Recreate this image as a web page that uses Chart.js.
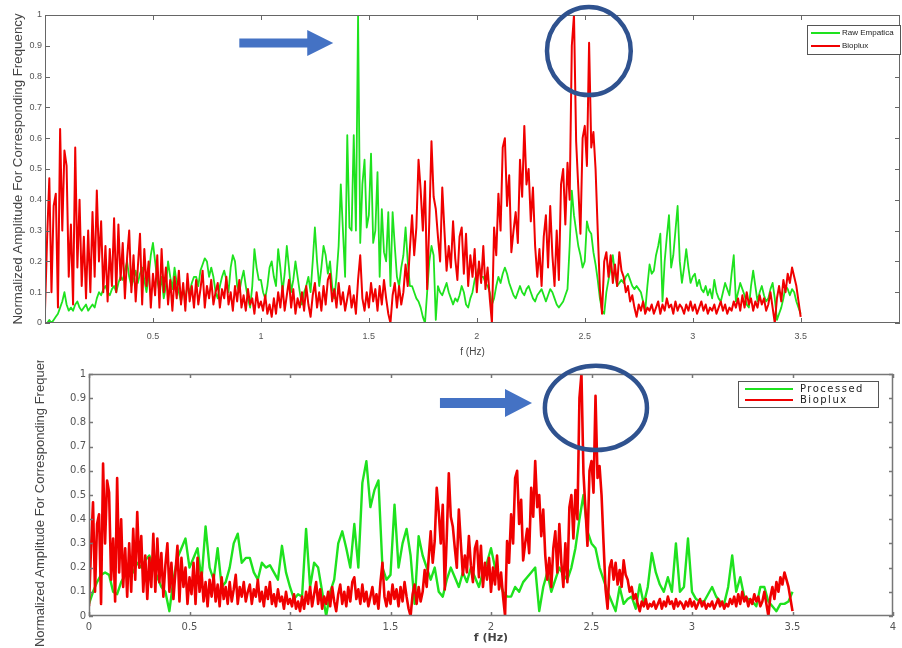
<!DOCTYPE html>
<html><head><meta charset="utf-8">
<script src="https://cdn.jsdelivr.net/npm/chart.js@4"></script>
<style>
html,body{margin:0;padding:0;background:#fff;overflow:hidden;width:902px;height:648px}
#top{position:absolute;left:0;top:0;width:902px;height:360px}
#bot{position:absolute;left:0;top:360px;width:902px;height:288px}
</style></head><body>
<div id="top"><canvas id="c1"></canvas></div>
<div id="bot"><canvas id="c2"></canvas></div>
<script>
// ---- data (frequency step in Hz for each series) ----
const bioStep = 0.01;
const bioplux = [
0.04,0.28,0.47,0.10,0.38,0.42,0.05,0.63,0.30,0.56,
0.51,0.15,0.32,0.06,0.57,0.18,0.40,0.12,0.28,0.08,
0.30,0.10,0.36,0.15,0.43,0.20,0.33,0.10,0.25,0.07,
0.24,0.12,0.34,0.10,0.32,0.14,0.26,0.08,0.21,0.30,
0.10,0.22,0.07,0.18,0.29,0.06,0.24,0.12,0.20,0.05,
0.16,0.09,0.22,0.05,0.24,0.10,0.18,0.06,0.14,0.04,
0.15,0.08,0.17,0.06,0.13,0.04,0.16,0.07,0.12,0.05,
0.14,0.06,0.11,0.17,0.05,0.12,0.08,0.14,0.06,0.10,
0.13,0.05,0.11,0.08,0.15,0.06,0.10,0.04,0.12,0.07,
0.14,0.05,0.09,0.04,0.11,0.06,0.08,0.03,0.10,0.05,
0.07,0.04,0.09,0.03,0.06,0.02,0.08,0.03,0.10,0.05,
0.12,0.04,0.09,0.14,0.05,0.11,0.03,0.08,0.05,0.10,
0.04,0.12,0.06,0.02,0.09,0.13,0.05,0.10,0.04,0.12,
0.06,0.14,0.16,0.07,0.11,0.05,0.13,0.06,0.10,0.04,
0.08,0.12,0.05,0.09,0.03,0.14,0.22,0.08,0.04,0.10,
0.05,0.13,0.07,0.11,0.04,0.12,0.06,0.14,0.08,0.03,
0.00,0.09,0.13,0.05,0.12,0.06,0.10,0.19,0.12,0.24,
0.35,0.22,0.31,0.53,0.43,0.30,0.46,0.11,0.33,0.59,
0.41,0.37,0.28,0.20,0.44,0.30,0.17,0.25,0.18,0.33,
0.21,0.14,0.28,0.31,0.16,0.29,0.12,0.22,0.15,0.24,
0.10,0.20,0.13,0.25,0.11,0.18,0.08,0.00,0.31,0.22,
0.42,0.30,0.57,0.60,0.38,0.48,0.23,0.30,0.36,0.26,
0.53,0.41,0.64,0.45,0.50,0.33,0.44,0.25,0.15,0.24,
0.12,0.28,0.35,0.18,0.38,0.22,0.12,0.30,0.14,0.45,
0.50,0.32,0.52,0.40,0.90,1.00,0.59,0.44,0.29,0.60,
0.64,0.51,0.91,0.57,0.62,0.50,0.30,0.11,0.03,0.20,
0.23,0.15,0.22,0.13,0.19,0.12,0.23,0.17,0.15,0.10,
0.12,0.07,0.09,0.05,0.02,0.06,0.04,0.07,0.03,0.05,
0.04,0.06,0.03,0.05,0.07,0.03,0.06,0.04,0.08,0.05,
0.06,0.03,0.07,0.04,0.06,0.05,0.03,0.06,0.04,0.07,
0.04,0.06,0.03,0.05,0.07,0.04,0.06,0.03,0.05,0.04,
0.06,0.03,0.05,0.07,0.04,0.06,0.03,0.05,0.04,0.07,
0.05,0.08,0.04,0.09,0.05,0.10,0.06,0.08,0.04,0.07,
0.05,0.09,0.06,0.08,0.04,0.06,0.10,0.05,0.00,0.08,
0.12,0.07,0.14,0.10,0.16,0.13,0.18,0.15,0.12,0.07,
0.02];

const rawStep = 0.01;
const rawEmpatica = [
0.00,0.00,0.01,0.00,0.01,0.02,0.03,0.05,0.07,0.10,
0.06,0.04,0.05,0.04,0.06,0.07,0.05,0.04,0.05,0.06,
0.04,0.05,0.06,0.05,0.08,0.10,0.09,0.11,0.12,0.10,
0.09,0.11,0.12,0.10,0.13,0.15,0.14,0.17,0.20,0.15,
0.12,0.14,0.17,0.13,0.16,0.18,0.14,0.10,0.15,0.22,
0.26,0.20,0.14,0.10,0.15,0.08,0.12,0.20,0.15,0.11,
0.18,0.13,0.10,0.07,0.11,0.08,0.12,0.10,0.13,0.15,
0.15,0.12,0.17,0.19,0.21,0.20,0.15,0.18,0.15,0.10,
0.08,0.12,0.15,0.17,0.14,0.10,0.18,0.22,0.20,0.12,
0.10,0.14,0.17,0.12,0.08,0.05,0.12,0.24,0.18,0.14,
0.14,0.10,0.08,0.12,0.18,0.20,0.15,0.12,0.24,0.18,
0.10,0.16,0.25,0.18,0.10,0.14,0.20,0.15,0.10,0.06,
0.10,0.12,0.15,0.10,0.20,0.31,0.20,0.12,0.18,0.25,
0.22,0.16,0.20,0.12,0.08,0.15,0.25,0.45,0.30,0.15,
0.61,0.31,0.30,0.61,0.30,1.00,0.26,0.45,0.53,0.31,
0.35,0.55,0.26,0.30,0.49,0.15,0.37,0.23,0.20,0.36,
0.12,0.36,0.25,0.15,0.12,0.18,0.22,0.31,0.20,0.12,
0.12,0.10,0.08,0.07,0.05,0.02,0.00,0.10,0.20,0.25,
0.22,0.01,0.12,0.10,0.09,0.11,0.13,0.10,0.08,0.06,
0.08,0.07,0.09,0.12,0.10,0.06,0.05,0.08,0.10,0.14,
0.16,0.18,0.15,0.15,0.13,0.12,0.10,0.06,0.08,0.12,
0.15,0.13,0.16,0.18,0.16,0.13,0.11,0.09,0.08,0.10,
0.12,0.10,0.09,0.11,0.12,0.10,0.08,0.07,0.09,0.10,
0.11,0.09,0.07,0.09,0.11,0.10,0.08,0.06,0.05,0.06,
0.07,0.09,0.11,0.25,0.43,0.35,0.30,0.25,0.22,0.18,
0.20,0.33,0.30,0.29,0.23,0.19,0.14,0.08,0.04,0.03,
0.10,0.14,0.18,0.22,0.16,0.12,0.13,0.14,0.13,0.15,
0.16,0.14,0.12,0.11,0.12,0.11,0.10,0.07,0.04,0.12,
0.19,0.16,0.17,0.22,0.25,0.29,0.07,0.20,0.28,0.35,
0.18,0.22,0.30,0.38,0.20,0.13,0.18,0.24,0.18,0.13,
0.15,0.16,0.12,0.14,0.11,0.10,0.12,0.09,0.11,0.08,
0.14,0.10,0.08,0.07,0.10,0.13,0.11,0.09,0.16,0.22,
0.07,0.10,0.13,0.11,0.09,0.06,0.05,0.12,0.17,0.12,
0.07,0.10,0.12,0.09,0.07,0.08,0.11,0.13,0.08,0.01,
0.03,0.05,0.08,0.12,0.11,0.09,0.11,0.10,0.07,0.05,
0.03];

const procStep = 0.02;
const processed = [
0.05,0.10,0.14,0.17,0.18,0.17,0.10,0.09,0.14,0.17,
0.20,0.18,0.22,0.20,0.23,0.25,0.20,0.16,0.12,0.10,
0.02,0.15,0.24,0.28,0.32,0.20,0.24,0.28,0.15,0.37,
0.20,0.15,0.28,0.12,0.14,0.20,0.30,0.34,0.22,0.24,
0.24,0.18,0.15,0.22,0.20,0.21,0.18,0.15,0.29,0.18,
0.12,0.07,0.09,0.08,0.36,0.12,0.22,0.20,0.10,0.00,
0.10,0.15,0.30,0.35,0.28,0.20,0.38,0.20,0.55,0.64,
0.45,0.52,0.56,0.20,0.15,0.17,0.46,0.20,0.30,0.36,
0.25,0.05,0.33,0.25,0.20,0.15,0.20,0.10,0.08,0.15,
0.20,0.16,0.12,0.18,0.14,0.20,0.16,0.12,0.18,0.22,
0.28,0.20,0.15,0.10,0.08,0.08,0.12,0.10,0.14,0.16,
0.18,0.20,0.02,0.12,0.18,0.10,0.15,0.20,0.17,0.15,
0.20,0.28,0.40,0.50,0.35,0.30,0.28,0.20,0.15,0.10,
0.06,0.02,0.12,0.05,0.07,0.08,0.03,0.13,0.05,0.12,
0.26,0.18,0.13,0.10,0.16,0.10,0.30,0.10,0.12,0.32,
0.10,0.07,0.06,0.06,0.09,0.12,0.08,0.06,0.05,0.12,
0.25,0.10,0.16,0.08,0.07,0.06,0.04,0.12,0.12,0.06,
0.04,0.02,0.05,0.05,0.06,0.10];

const yTicks = [0,0.1,0.2,0.3,0.4,0.5,0.6,0.7,0.8,0.9,1];
const topXTicks = [0.5,1,1.5,2,2.5,3,3.5];
const botXTicks = [0,0.5,1,1.5,2,2.5,3,3.5,4];
const yTitle = 'Normalized Amplitude For Corresponding Frequency';
const xTitle = 'f (Hz)';

const toXY = (arr, step) => arr.map((v, i) => ({x: +(i * step).toFixed(3), y: v}));

const GREEN = '#1ee21e', RED = '#f00000';

const matlabPlugin = {
  id: 'matlab',
  afterDatasetsDraw(chart, args, o) {
    const {ctx, chartArea: a, scales: {x, y}} = chart;
    ctx.save();
    // box
    ctx.strokeStyle = o.frameColor; ctx.lineWidth = o.frameWidth;
    ctx.strokeRect(a.left + 0.5, a.top + 0.5, a.right - a.left - 1, a.bottom - a.top - 1);
    // inward ticks
    ctx.beginPath();
    x.ticks.forEach(t => {
      const px = Math.round(x.getPixelForValue(t.value)) + 0.5;
      ctx.moveTo(px, a.bottom); ctx.lineTo(px, a.bottom - o.tickLen);
      ctx.moveTo(px, a.top); ctx.lineTo(px, a.top + o.tickLen);
    });
    y.ticks.forEach(t => {
      const py = Math.round(y.getPixelForValue(t.value)) + 0.5;
      ctx.moveTo(a.left, py); ctx.lineTo(a.left + o.tickLen, py);
      ctx.moveTo(a.right, py); ctx.lineTo(a.right - o.tickLen, py);
    });
    ctx.stroke();

    // annotations: arrow + ellipse, in data coordinates
    const an = o.annot;
    const ax0 = x.getPixelForValue(an.arrowFrom), ax1 = x.getPixelForValue(an.arrowTo);
    const ay = y.getPixelForValue(an.arrowY);
    ctx.fillStyle = o.arrowColor;
    ctx.beginPath();
    ctx.moveTo(ax0, ay - o.shaft / 2);
    ctx.lineTo(ax1 - o.headLen, ay - o.shaft / 2);
    ctx.lineTo(ax1 - o.headLen, ay - o.headH / 2);
    ctx.lineTo(ax1, ay);
    ctx.lineTo(ax1 - o.headLen, ay + o.headH / 2);
    ctx.lineTo(ax1 - o.headLen, ay + o.shaft / 2);
    ctx.lineTo(ax0, ay + o.shaft / 2);
    ctx.closePath(); ctx.fill();

    const cx = x.getPixelForValue(an.ellX), cy = y.getPixelForValue(an.ellY);
    const rx = Math.abs(x.getPixelForValue(an.ellX + an.ellRx) - cx);
    const ry = Math.abs(y.getPixelForValue(an.ellY + an.ellRy) - cy);
    ctx.strokeStyle = o.circleColor; ctx.lineWidth = o.circleWidth;
    ctx.beginPath(); ctx.ellipse(cx, cy, rx, ry, 0, 0, Math.PI * 2); ctx.stroke();

    // legend box
    const L = o.legend;
    const ds = chart.data.datasets;
    const bx = a.right - L.right - L.w, by = a.top + L.top;
    ctx.fillStyle = '#fff'; ctx.fillRect(bx, by, L.w, L.h);
    ctx.strokeStyle = '#555'; ctx.lineWidth = 1;
    ctx.strokeRect(bx + 0.5, by + 0.5, L.w, L.h);
    ctx.font = L.font; ctx.textBaseline = 'middle'; ctx.textAlign = 'left';
    if (L.spacing) ctx.letterSpacing = L.spacing;
    ds.forEach((d, i) => {
      const ly = by + L.row0 + i * L.rowH;
      ctx.strokeStyle = d.borderColor; ctx.lineWidth = L.lw;
      ctx.beginPath(); ctx.moveTo(bx + L.lx0, ly); ctx.lineTo(bx + L.lx1, ly); ctx.stroke();
      ctx.fillStyle = '#222'; ctx.fillText(d.label, bx + L.tx, ly);
    });
    ctx.restore();
  }
};

function makeChart(id, datasets, c) {
  return new Chart(document.getElementById(id), {
    type: 'line',
    data: {datasets},
    plugins: [matlabPlugin],
    options: {
      responsive: true, maintainAspectRatio: false, animation: false,
      events: [],
      layout: {padding: c.pad},
      elements: {point: {radius: 0}, line: {tension: 0, borderJoinStyle: 'round'}},
      plugins: {legend: {display: false}, tooltip: {enabled: false}, matlab: c.plug},
      scales: {
        x: {
          type: 'linear', min: 0, max: c.xMax,
          afterBuildTicks: s => { s.ticks = c.xTicks.map(v => ({value: v})); },
          afterFit: s => { s.height = c.xH; },
          grid: {display: false, drawTicks: false}, border: {display: false},
          ticks: {font: c.tickFont, color: c.tickColor, padding: c.xTickPad, maxRotation: 0, autoSkip: false,
                  callback: v => String(v)},
          title: {display: true, text: xTitle, font: c.xTitleFont, color: c.titleColor, padding: c.xTitlePad}
        },
        y: {
          min: 0, max: 1,
          afterBuildTicks: s => { s.ticks = yTicks.map(v => ({value: v})); },
          afterFit: s => { s.width = c.yW; },
          grid: {display: false, drawTicks: false}, border: {display: false},
          ticks: {font: c.tickFont, color: c.tickColor, padding: 3, autoSkip: false, callback: v => String(v)},
          title: {display: true, text: yTitle, font: c.yTitleFont, color: c.titleColor, padding: c.yTitlePad}
        }
      }
    }
  });
}

makeChart('c1', [
  {label: 'Raw Empatica', data: toXY(rawEmpatica, rawStep), borderColor: GREEN, borderWidth: 1.8, order: 2},
  {label: 'Bioplux', data: toXY(bioplux, bioStep), borderColor: RED, borderWidth: 2, order: 1}
], {
  pad: {top: 15, right: 2, left: 0, bottom: 0},
  xMax: 3.96, xTicks: topXTicks, xH: 37, yW: 45,
  tickFont: {family: 'Liberation Sans, Arial', size: 9}, tickColor: '#555',
  xTickPad: 8, xTitleFont: {family: 'Liberation Sans, Arial', size: 10}, xTitlePad: {top: 0, bottom: 2},
  yTitleFont: {family: 'Liberation Sans, Arial', size: 13.3}, yTitlePad: {top: 10, bottom: 0},
  titleColor: '#444',
  plug: {
    frameColor: '#666', frameWidth: 1, tickLen: 5,
    annot: {arrowFrom: 0.90, arrowTo: 1.335, arrowY: 0.909, ellX: 2.519, ellY: 0.883, ellRx: 0.194, ellRy: 0.143},
    arrowColor: '#4472C4', shaft: 9, headH: 26, headLen: 26,
    circleColor: '#2F528F', circleWidth: 4.5,
    legend: {right: 0, top: 10, w: 93, h: 29, row0: 8, rowH: 13, lx0: 4, lx1: 33, tx: 35, lw: 2,
             font: '8px "Liberation Sans", Arial'}
  }
});

makeChart('c2', [
  {label: 'Processed', data: toXY(processed, procStep), borderColor: GREEN, borderWidth: 2.4, order: 2},
  {label: 'Bioplux', data: toXY(bioplux, bioStep), borderColor: RED, borderWidth: 2.6, order: 1}
], {
  pad: {top: 14, right: 9, left: 0, bottom: 0},
  xMax: 4, xTicks: botXTicks, xH: 32, yW: 89,
  tickFont: {family: 'DejaVu Sans', size: 10}, tickColor: '#555',
  xTickPad: 5, xTitleFont: {family: 'DejaVu Sans', size: 11, weight: 'bold'}, xTitlePad: {top: 0, bottom: 3},
  yTitleFont: {family: 'Liberation Sans, Arial', size: 13}, yTitlePad: {top: 33, bottom: 0},
  titleColor: '#444',
  plug: {
    frameColor: '#777', frameWidth: 1.5, tickLen: 4,
    annot: {arrowFrom: 1.746, arrowTo: 2.204, arrowY: 0.88, ellX: 2.522, ellY: 0.86, ellRx: 0.254, ellRy: 0.174},
    arrowColor: '#4472C4', shaft: 10, headH: 28, headLen: 27,
    circleColor: '#2F528F', circleWidth: 4.5,
    legend: {right: 15, top: 7, w: 140, h: 26, row0: 8, rowH: 11, lx0: 7, lx1: 55, tx: 62, lw: 2,
             font: '10px "DejaVu Sans"', spacing: '1.5px'}
  }
});
</script>
</body></html>
